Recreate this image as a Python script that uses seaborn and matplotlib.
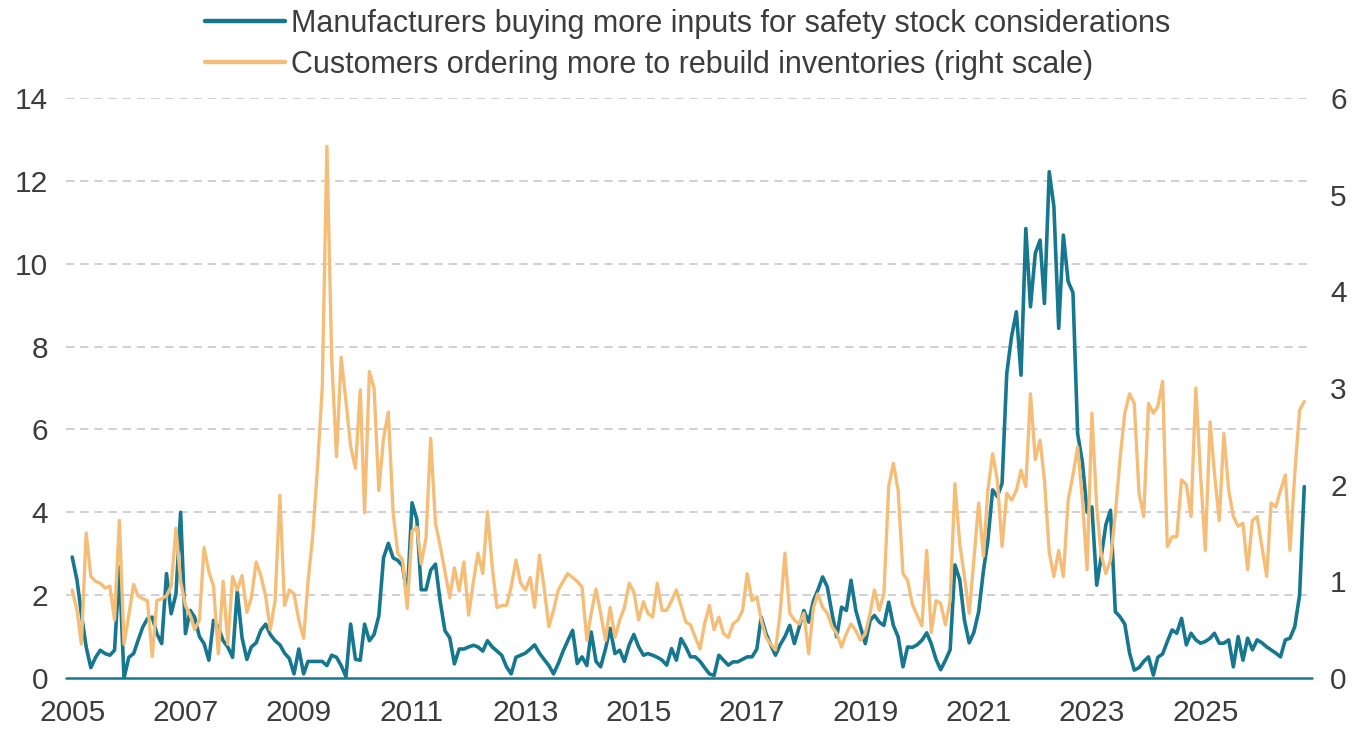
import matplotlib
matplotlib.use("Agg")
import matplotlib.pyplot as plt
import matplotlib.dates as mdates
import seaborn as sns
import pandas as pd
import numpy as np

# Serie mensual desde enero 2005
manufacturers_safety_stock = [
    2.92, 2.36, 1.55, 0.75, 0.25, 0.5, 0.67, 0.59, 0.55, 0.67, 2.68, 0.0,      # 2005
    0.5, 0.59, 0.9, 1.23, 1.43, 1.47, 1.07, 0.83, 2.52, 1.55, 2.03, 4.0,       # 2006
    1.07, 1.63, 1.47, 1.0, 0.83, 0.43, 1.39, 1.23, 0.9, 0.75, 0.5, 2.1,        # 2007
    0.97, 0.45, 0.75, 0.85, 1.15, 1.3, 1.05, 0.9, 0.8, 0.6, 0.47, 0.1,         # 2008
    0.7, 0.1, 0.4, 0.4, 0.4, 0.4, 0.3, 0.55, 0.5, 0.3, 0.03, 1.3,              # 2009
    0.45, 0.43, 1.3, 0.9, 1.05, 1.5, 2.9, 3.25, 2.9, 2.84, 2.7, 1.95,          # 2010
    4.23, 3.83, 2.13, 2.13, 2.6, 2.75, 1.86, 1.14, 0.97, 0.34, 0.7, 0.7,       # 2011
    0.75, 0.79, 0.75, 0.65, 0.9, 0.75, 0.65, 0.55, 0.27, 0.1, 0.5, 0.55,       # 2012
    0.6, 0.7, 0.8, 0.6, 0.45, 0.3, 0.1, 0.35, 0.65, 0.9, 1.15, 0.35,           # 2013
    0.51, 0.3, 1.11, 0.4, 0.27, 0.7, 1.2, 0.59, 0.67, 0.4, 0.8, 1.05,          # 2014
    0.75, 0.55, 0.59, 0.55, 0.5, 0.43, 0.31, 0.71, 0.43, 0.95, 0.75, 0.51,     # 2015
    0.51, 0.4, 0.25, 0.1, 0.06, 0.55, 0.43, 0.31, 0.39, 0.39, 0.45, 0.51,      # 2016
    0.51, 0.7, 1.47, 1.07, 0.8, 0.55, 0.8, 1.0, 1.27, 0.83, 1.23, 1.63,        # 2017
    1.35, 1.87, 2.12, 2.44, 2.2, 1.55, 0.99, 1.71, 1.63, 2.36, 1.63, 1.23,     # 2018
    0.83, 1.39, 1.51, 1.35, 1.27, 1.83, 1.27, 0.99, 0.27, 0.75, 0.74, 0.8,     # 2019
    0.91, 1.09, 0.83, 0.45, 0.2, 0.43, 0.68, 2.73, 2.37, 1.4, 0.85, 1.1,       # 2020
    1.6, 2.6, 3.3, 4.54, 4.38, 4.7, 7.35, 8.24, 8.84, 7.31, 10.85, 8.96,       # 2021
    10.25, 10.57, 9.04, 12.22, 11.38, 8.44, 10.69, 9.57, 9.3, 5.9, 5.2, 4.0,   # 2022
    4.13, 2.24, 2.9, 3.7, 4.05, 1.6, 1.48, 1.3, 0.6, 0.19, 0.25, 0.4,          # 2023
    0.51, 0.07, 0.5, 0.58, 0.88, 1.16, 1.08, 1.44, 0.8, 1.08, 0.92, 0.84,      # 2024
    0.88, 0.96, 1.08, 0.84, 0.84, 0.92, 0.27, 1.0, 0.43, 0.96, 0.68, 0.92,     # 2025
    0.85, 0.75, 0.68, 0.6, 0.51, 0.92, 0.96, 1.24, 2.0, 4.62,                  # 2026
]

customers_rebuild_inventories = [
    0.91, 0.7, 0.35, 1.5, 1.05, 1.0, 0.98, 0.93, 0.95, 0.6, 1.63, 0.35,        # 2005
    0.65, 0.97, 0.85, 0.82, 0.8, 0.22, 0.8, 0.82, 0.85, 0.95, 1.55, 1.0,       # 2006
    0.75, 0.65, 0.5, 0.6, 1.35, 1.1, 0.95, 0.25, 1.0, 0.35, 1.05, 0.91,        # 2007
    1.06, 0.68, 0.83, 1.2, 1.06, 0.85, 0.5, 0.8, 1.89, 0.75, 0.91, 0.87,       # 2008
    0.6, 0.41, 0.99, 1.48, 2.17, 3.0, 5.5, 3.3, 2.29, 3.32, 2.86, 2.4,         # 2009
    2.17, 2.98, 1.71, 3.17, 3.0, 1.94, 2.48, 2.75, 1.71, 1.29, 1.22, 0.72,     # 2010
    1.52, 1.56, 1.18, 1.45, 2.48, 1.6, 1.37, 1.1, 0.83, 1.14, 0.9, 1.2,        # 2011
    0.65, 1.0, 1.29, 1.08, 1.72, 1.15, 0.73, 0.75, 0.75, 0.94, 1.22, 0.98,     # 2012
    0.91, 1.04, 0.73, 1.27, 0.94, 0.53, 0.7, 0.91, 1.0, 1.08, 1.04, 1.0,       # 2013
    0.94, 0.39, 0.67, 0.92, 0.67, 0.39, 0.73, 0.42, 0.6, 0.73, 0.98, 0.89,     # 2014
    0.6, 0.79, 0.67, 0.63, 0.98, 0.7, 0.7, 0.8, 0.91, 0.75, 0.58, 0.55,        # 2015
    0.42, 0.3, 0.56, 0.75, 0.5, 0.63, 0.46, 0.42, 0.56, 0.6, 0.7, 1.08,        # 2016
    0.8, 0.84, 0.6, 0.42, 0.35, 0.29, 0.67, 1.29, 0.67, 0.6, 0.56, 0.67,       # 2017
    0.25, 0.73, 0.87, 0.73, 0.67, 0.53, 0.46, 0.32, 0.46, 0.56, 0.49, 0.39,    # 2018
    0.46, 0.67, 0.91, 0.7, 0.87, 1.98, 2.22, 1.94, 1.08, 1.01, 0.76, 0.65,     # 2019
    0.54, 1.32, 0.47, 0.8, 0.77, 0.55, 0.8, 2.01, 1.39, 1.05, 0.67, 1.22,      # 2020
    1.81, 1.26, 1.94, 2.32, 2.05, 1.36, 1.91, 1.84, 1.94, 2.15, 1.98, 2.94,    # 2021
    2.26, 2.46, 2.05, 1.3, 1.05, 1.32, 1.05, 1.84, 2.1, 2.39, 1.84, 1.12,      # 2022
    2.74, 1.77, 1.29, 1.08, 1.22, 1.7, 2.26, 2.74, 2.94, 2.84, 1.91, 1.67,     # 2023
    2.84, 2.74, 2.81, 3.07, 1.36, 1.46, 1.46, 2.05, 2.0, 1.67, 3.0, 2.12,      # 2024
    1.32, 2.65, 2.12, 1.63, 2.53, 1.94, 1.67, 1.57, 1.6, 1.12, 1.63, 1.67,     # 2025
    1.36, 1.05, 1.81, 1.77, 1.94, 2.1, 1.32, 2.12, 2.77, 2.86,                 # 2026
]

label_left = "Manufacturers buying more inputs for safety stock considerations"
label_right = "Customers ordering more to rebuild inventories (right scale)"
tick_years = list(range(2005, 2026, 2))

teal = "#17778f"
orange = "#f4be78"
text_col = "#3c3c3c"
fsize = 21.5

data = pd.DataFrame({
    "date": pd.date_range("2005-01-01", periods=len(manufacturers_safety_stock), freq="MS"),
    "safety": manufacturers_safety_stock,
    "rebuild": customers_rebuild_inventories,
})

sns.set_theme(style="white")
plt.rcParams["font.family"] = ["Liberation Sans", "DejaVu Sans"]

fig = plt.figure(figsize=(13.56, 7.29), dpi=100)
ax = fig.add_axes([66 / 1356, 1 - 678 / 729, (1312 - 66) / 1356, (678 - 98) / 729])
ax2 = ax.twinx()

# Lineas
sns.lineplot(data=data, x="date", y="safety", ax=ax, color=teal, linewidth=2.6, label=label_left, legend=False)
sns.lineplot(data=data, x="date", y="rebuild", ax=ax2, color=orange, linewidth=2.4, label=label_right, legend=False)

# Ejes
ax.set_ylim(0, 14)
ax2.set_ylim(0, 6)
ax.set_yticks(np.arange(0, 15, 2))
ax2.set_yticks(np.arange(0, 7, 1))
ax.set_xlim(pd.Timestamp("2004-11-22"), pd.Timestamp("2026-11-20"))
ax.set_xticks(pd.to_datetime([f"{y}-01-01" for y in tick_years]))
ax.xaxis.set_major_formatter(mdates.DateFormatter("%Y"))

for a in (ax, ax2):
    for s in a.spines.values():
        s.set_visible(False)
    a.set_xlabel("")
    a.set_ylabel("")
    a.grid(False)

ax.tick_params(axis="x", length=0, pad=15, labelsize=fsize, labelcolor=text_col)
ax.tick_params(axis="y", length=0, pad=13, labelsize=fsize, labelcolor=text_col)
ax2.tick_params(axis="y", length=0, pad=13, labelsize=fsize, labelcolor=text_col)

# Lineas de cuadricula discontinuas y linea base
for v in range(2, 15, 2):
    ax.axhline(v, color="#c8c8c8", linewidth=1.2, linestyle=(0, (5, 3.5)), zorder=0)
ax.axhline(0, color=teal, linewidth=1.8, zorder=1, clip_on=False)

# Leyenda
h1, l1 = ax.get_legend_handles_labels()
h2, l2 = ax2.get_legend_handles_labels()
leg = fig.legend(h1 + h2, l1 + l2, loc="upper center", bbox_to_anchor=(0.507, 1.026),
                 frameon=False, fontsize=22, handlelength=2.6, handletextpad=0.2,
                 labelspacing=0.38, labelcolor=text_col)
for line in leg.get_lines():
    line.set_linewidth(3.2)

fig.savefig("out.png", dpi=100)
plt.close(fig)
